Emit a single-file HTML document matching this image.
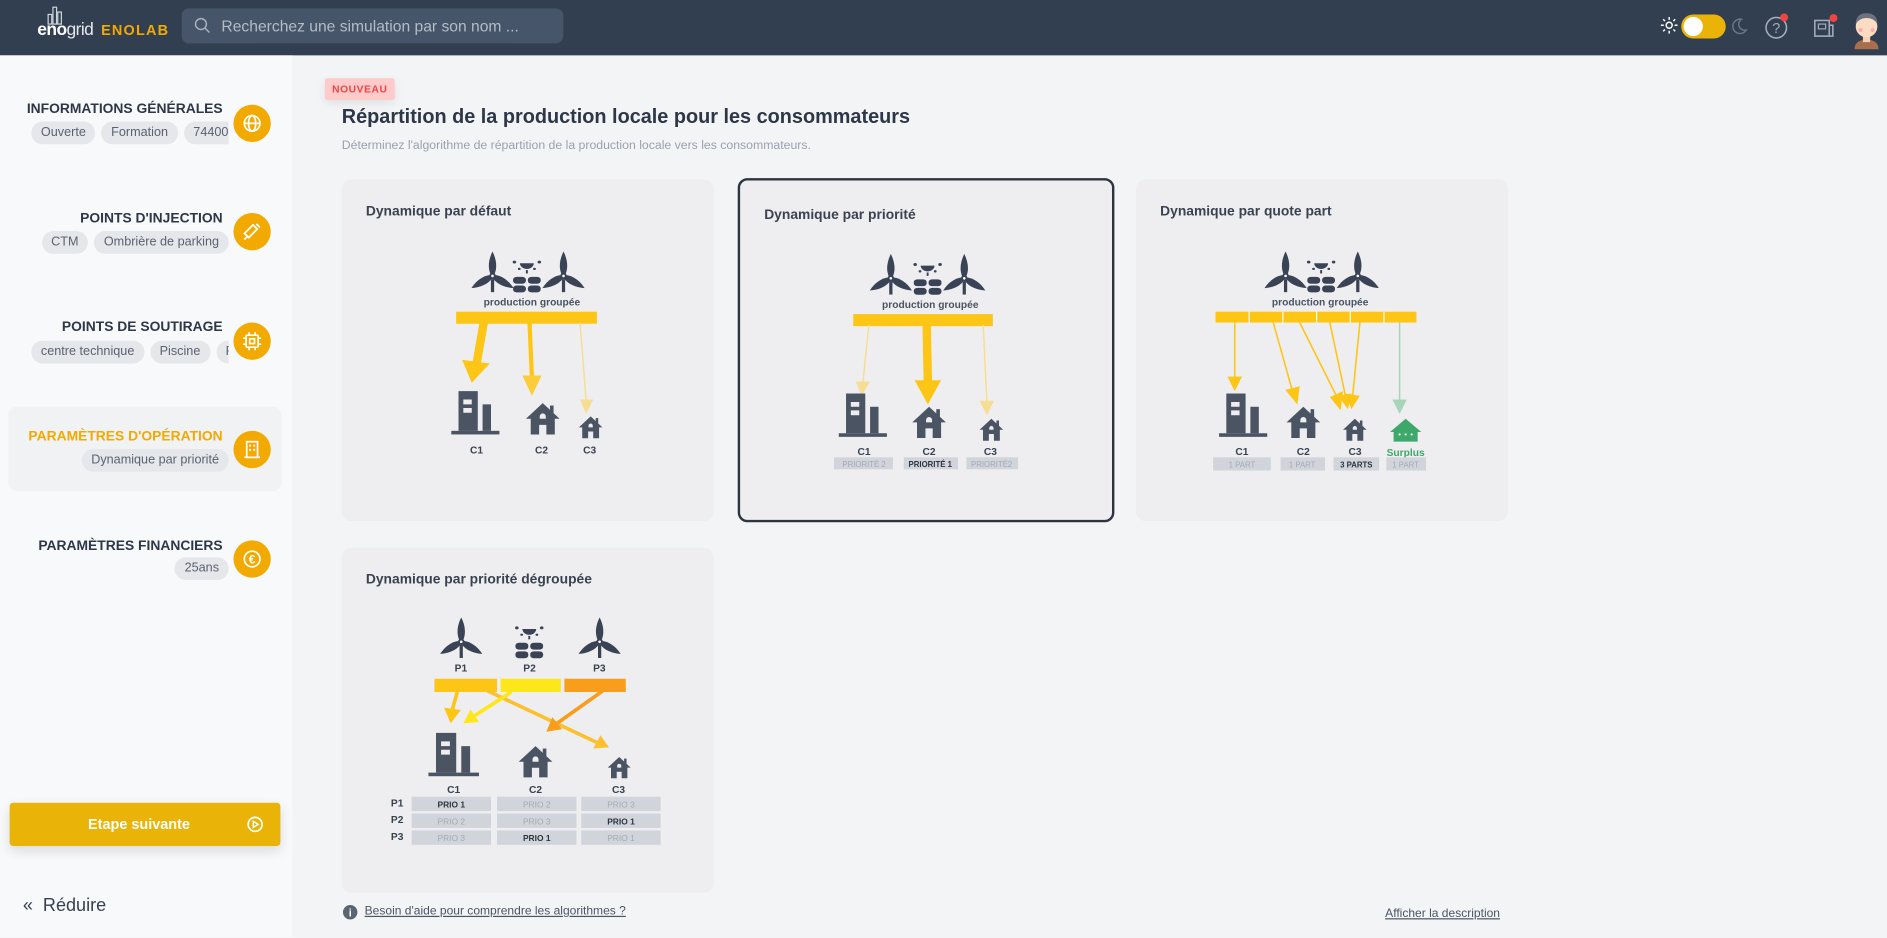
<!DOCTYPE html>
<html><head><meta charset="utf-8">
<style>
html,body{margin:0;padding:0;width:1887px;height:937px;overflow:hidden;background:#f3f4f6;font-family:"Liberation Sans",sans-serif}
#w{position:absolute;left:0;top:0;width:1568px;height:779px;transform:scale(1.20345);transform-origin:0 0;background:#f3f4f6}
.top{position:absolute;left:0;top:0;width:1568px;height:46px;background:#323f51}
.side{position:absolute;left:0;top:46px;width:243px;height:733px;background:#f8f9fb}
.abs{position:absolute}
.st{position:absolute;right:58px;font-size:11.5px;font-weight:bold;color:#2d3748;white-space:nowrap}
.chips{position:absolute;left:25px;width:165px;height:19px;overflow:hidden;display:flex;gap:5px;white-space:nowrap}
.chip{background:#e5e7eb;border-radius:10px;height:19px;line-height:19px;padding:0 8px;font-size:10.5px;color:#5b6270;flex:none}
.ic{position:absolute;left:194px;width:31px;height:31px;border-radius:50%;background:#f2a900}
.card{position:absolute;width:309px;background:#eeeef0;border-radius:8px}
.ct{position:absolute;left:20px;font-size:11.5px;font-weight:bold;color:#3a4250}
</style></head><body><div id="w">
<div class="top">
  <div class="abs" style="left:31px;top:17px;font-size:14.5px;color:#fff;font-weight:bold;letter-spacing:-.5px">eno<span style="font-weight:normal;color:#e5e7eb">grid</span></div>
  <svg class="abs" style="left:36px;top:5px" width="22" height="16"><g fill="none" stroke="#cfd5dd" stroke-width="1"><rect x="8" y="1" width="3" height="14"/><rect x="4" y="7" width="3" height="8"/><rect x="12" y="5" width="3" height="10"/></g></svg>
  <div class="abs" style="left:84px;top:18px;font-size:12px;color:#f2a900;font-weight:bold;letter-spacing:1px">ENOLAB</div>
  <div class="abs" style="left:151px;top:7px;width:317px;height:29px;background:#46556a;border-radius:6px"></div>
  <svg class="abs" style="left:161px;top:14px" width="14" height="14"><circle cx="6" cy="6" r="4.5" fill="none" stroke="#aab3c0" stroke-width="1.2"/><line x1="9.5" y1="9.5" x2="13" y2="13" stroke="#aab3c0" stroke-width="1.2"/></svg>
  <div class="abs" style="left:184px;top:14px;font-size:13px;color:#b4bcc8">Recherchez une simulation par son nom ...</div>
  <svg class="abs" style="left:1380px;top:14px" width="14" height="14"><circle cx="7" cy="7" r="2.5" fill="none" stroke="#fff" stroke-width="1.2"/><g stroke="#fff" stroke-width="1.2"><line x1="7" y1="0" x2="7" y2="2.5"/><line x1="7" y1="11.5" x2="7" y2="14"/><line x1="0" y1="7" x2="2.5" y2="7"/><line x1="11.5" y1="7" x2="14" y2="7"/><line x1="2" y1="2" x2="3.5" y2="3.5"/><line x1="10.5" y1="10.5" x2="12" y2="12"/><line x1="2" y1="12" x2="3.5" y2="10.5"/><line x1="10.5" y1="3.5" x2="12" y2="2"/></g></svg>
  <div class="abs" style="left:1397px;top:12px;width:37px;height:20px;border-radius:10px;background:#eab308"></div>
  <div class="abs" style="left:1399px;top:14px;width:16px;height:16px;border-radius:50%;background:#fff"></div>
  <svg class="abs" style="left:1438px;top:15px" width="14" height="14"><path d="M9 1 A6 6 0 1 0 13 10 A5 5 0 0 1 9 1Z" fill="none" stroke="#6b7789" stroke-width="1.2"/></svg>
  <svg class="abs" style="left:1466px;top:11px" width="22" height="22"><circle cx="10" cy="12" r="8.5" fill="none" stroke="#a3adbb" stroke-width="1.3"/><text x="10" y="16.5" font-size="12" fill="#a3adbb" text-anchor="middle" font-family="Liberation Sans">?</text><circle cx="16.5" cy="3.5" r="3.3" fill="#ef4444"/></svg>
  <svg class="abs" style="left:1506px;top:11px" width="22" height="22"><rect x="2" y="6" width="12" height="13" fill="none" stroke="#a3adbb" stroke-width="1.3"/><rect x="5" y="9" width="6" height="4" fill="none" stroke="#a3adbb"/><path d="M14 10 H17 V19 H14" fill="none" stroke="#a3adbb" stroke-width="1.3"/><circle cx="17.5" cy="4" r="3.3" fill="#ef4444"/></svg>
  <svg class="abs" style="left:1537px;top:5px" width="28" height="36"><path d="M4 36 Q4 28 14 28 Q24 28 24 36Z" fill="#a86f4c"/><rect x="11" y="25" width="6" height="5" fill="#f6d0b0"/><circle cx="14" cy="17" r="9" fill="#fbdcc2"/><path d="M5 15 Q5 6 14 6 Q23 6 23 15 Q20 10 14 10 Q8 10 5 15Z" fill="#6b7280"/><circle cx="9" cy="20" r="1.6" fill="#f9a8b4"/><circle cx="19" cy="20" r="1.6" fill="#f9a8b4"/></svg>
</div>

<div class="side">
  <div class="st" style="top:39px">INFORMATIONS GÉNÉRALES</div>
  <div class="chips" style="top:55px;left:26px;width:164px"><span class="chip">Ouverte</span><span class="chip">Formation</span><span class="chip">74400</span></div>
  <div class="ic" style="top:41px"></div>
  <svg class="abs" style="left:201px;top:48px" width="17" height="17"><g fill="none" stroke="#fff" stroke-width="1.4"><circle cx="8.5" cy="8.5" r="6.5"/><ellipse cx="8.5" cy="8.5" rx="3" ry="6.5"/><line x1="2" y1="8.5" x2="15" y2="8.5"/></g></svg>

  <div class="st" style="top:130px">POINTS D'INJECTION</div>
  <div class="chips" style="top:146px;justify-content:flex-end"><span class="chip">CTM</span><span class="chip">Ombrière de parking</span></div>
  <div class="ic" style="top:131px"></div>
  <svg class="abs" style="left:201px;top:138px" width="17" height="17"><g stroke="#fff" stroke-width="1.5" fill="none"><rect x="5" y="4" width="5" height="10" transform="rotate(45 8.5 8.5)"/><line x1="2" y1="15" x2="5" y2="12"/><line x1="12" y1="2" x2="15" y2="5"/></g></svg>

  <div class="st" style="top:220px">POINTS DE SOUTIRAGE</div>
  <div class="chips" style="top:237px;left:26px;width:164px"><span class="chip">centre technique</span><span class="chip">Piscine</span><span class="chip">F</span></div>
  <div class="ic" style="top:222px"></div>
  <svg class="abs" style="left:201px;top:229px" width="17" height="17"><g fill="none" stroke="#fff" stroke-width="1.4"><rect x="3.5" y="3.5" width="10" height="10" rx="1"/><rect x="6.5" y="6.5" width="4" height="4"/><path d="M6 1V3.5M11 1V3.5M6 13.5V16M11 13.5V16M1 6H3.5M1 11H3.5M13.5 6H16M13.5 11H16"/></g></svg>

  <div class="abs" style="left:7px;top:292px;width:227px;height:70px;background:#f1f2f4;border-radius:7px"></div>
  <div class="st" style="top:311px;color:#f2a900">PARAMÈTRES D'OPÉRATION</div>
  <div class="chips" style="top:327px;justify-content:flex-end"><span class="chip">Dynamique par priorité</span></div>
  <div class="ic" style="top:312px"></div>
  <svg class="abs" style="left:201px;top:319px" width="17" height="17"><g fill="none" stroke="#fff" stroke-width="1.4"><rect x="4" y="2" width="9" height="13"/><line x1="2" y1="15" x2="15" y2="15"/></g><g fill="#fff"><rect x="6" y="4.5" width="1.6" height="1.6"/><rect x="9.4" y="4.5" width="1.6" height="1.6"/><rect x="6" y="8" width="1.6" height="1.6"/><rect x="9.4" y="8" width="1.6" height="1.6"/></g></svg>

  <div class="st" style="top:402px">PARAMÈTRES FINANCIERS</div>
  <div class="chips" style="top:417px;justify-content:flex-end"><span class="chip">25ans</span></div>
  <div class="ic" style="top:403px"></div>
  <svg class="abs" style="left:201px;top:410px" width="17" height="17"><circle cx="8.5" cy="8.5" r="6.5" fill="none" stroke="#fff" stroke-width="1.4"/><text x="8.5" y="12.3" font-size="10" fill="#fff" text-anchor="middle" font-family="Liberation Sans" font-weight="bold">€</text></svg>

  <div class="abs" style="left:8px;top:621px;width:225px;height:36px;background:#eab308;border-radius:3px;box-shadow:0 4px 10px rgba(0,0,0,.12)"></div>
  <div class="abs" style="left:8px;top:632px;width:215px;text-align:center;font-size:12px;font-weight:bold;color:#fff">Etape suivante</div>
  <svg class="abs" style="left:205px;top:632px" width="14" height="14"><circle cx="7" cy="7" r="5.8" fill="none" stroke="#fff" stroke-width="1.4"/><path d="M5.5 4.5 L9.5 7 L5.5 9.5Z" fill="none" stroke="#fff" stroke-width="1.2"/></svg>
  <div class="abs" style="left:19px;top:698px;font-size:15px;color:#374151">«&nbsp; Réduire</div>
</div>

<div class="abs" style="left:270px;top:65px;width:58px;height:18px;background:#fecaca;border-radius:2px;box-shadow:0 3px 8px rgba(0,0,0,.08)"></div>
<div class="abs" style="left:270px;top:69px;width:58px;text-align:center;font-size:8.5px;font-weight:bold;color:#ef4444;letter-spacing:.5px">NOUVEAU</div>
<div class="abs" style="left:284px;top:88px;font-size:16.5px;font-weight:bold;color:#2d3748">Répartition de la production locale pour les consommateurs</div>
<div class="abs" style="left:284px;top:116px;font-size:10.2px;color:#9aa1ad">Déterminez l'algorithme de répartition de la production locale vers les consommateurs.</div>

<div class="card" style="left:284px;top:149px;height:284px"><div class="ct" style="top:21px">Dynamique par défaut</div></div>
<div class="card" style="left:613px;top:148px;height:282px;border:2px solid #2f3540"><div class="ct" style="top:23px">Dynamique par priorité</div></div>
<div class="card" style="left:944px;top:149px;height:284px"><div class="ct" style="top:21px">Dynamique par quote part</div></div>
<div class="card" style="left:284px;top:455px;height:287px"><div class="ct" style="top:21px">Dynamique par priorité dégroupée</div></div>

<svg class="abs" style="left:0;top:0" width="1568" height="779" font-family="Liberation Sans" font-weight="bold">
<defs>
 <g id="tb0" fill="#3a4355">
  <path d="M15 0 C17.5 5 18 10 16.2 14 L13.8 14 C12 10 12.5 5 15 0Z"/>
  <path d="M15 0 C17.5 5 18 10 16.2 14 L13.8 14 C12 10 12.5 5 15 0Z" transform="rotate(120 15 15)"/>
  <path d="M15 0 C17.5 5 18 10 16.2 14 L13.8 14 C12 10 12.5 5 15 0Z" transform="rotate(240 15 15)"/>
  <circle cx="15" cy="15" r="2"/><circle cx="15" cy="15" r=".8" fill="#fff"/>
  <rect x="14" y="17" width="2" height="8"/>
 </g>
 <g id="tb"><use href="#tb0" transform="scale(1.35)"/></g>
 <g id="sl0" fill="#3a4355">
  <path d="M7 6 H17 A5 5 0 0 1 7 6Z"/>
  <circle cx="3" cy="5" r="1.3"/><circle cx="21" cy="5" r="1.3"/><circle cx="6.5" cy="11" r="1"/><circle cx="17.5" cy="11" r="1"/><rect x="11.3" y="12" width="1.4" height="3"/>
  <rect x="2" y="18" width="9.3" height="6" rx="2.5"/><rect x="12.7" y="18" width="9.3" height="6" rx="2.5"/>
  <rect x="2" y="25.5" width="9.3" height="6" rx="2.5"/><rect x="12.7" y="25.5" width="9.3" height="6" rx="2.5"/>
 </g>
 <g id="sl"><use href="#sl0" transform="scale(1.15,.95)"/></g>
 <g id="bd" fill="#4a5463">
  <path d="M6 0 H22 V33 H6Z M10 7 V11 H17 V7Z M10 14 V18 H17 V14Z" fill-rule="evenodd"/>
  <rect x="26" y="11" width="7" height="22"/><rect x="0" y="33" width="40" height="3"/>
 </g>
 <g id="hs" fill="#4a5463">
  <path d="M14 0 L28 13 H24 V26 H17 V18 H11 V26 H4 V13 H0Z M11.5 11 A2.5 2.5 0 0 1 16.5 11 V13 H11.5Z" fill-rule="evenodd"/>
  <rect x="20" y="2" width="3" height="7"/>
 </g>
</defs>

<!-- card1 -->
<use href="#sl" transform="translate(424,213)"/><use href="#tb" transform="translate(389,209)"/><use href="#tb" transform="translate(448,209)"/>
<text x="442" y="254" font-size="8.5" fill="#4a5363" text-anchor="middle">production groupée</text>
<rect x="379" y="259" width="117" height="10" fill="#fdc515"/>
<line x1="402" y1="268" x2="396" y2="302" stroke="#fdc515" stroke-width="7"/><polygon points="384,299 407,302 392,318" fill="#fdc515"/>
<line x1="440" y1="268" x2="442" y2="314" stroke="#fdc515" stroke-width="3.5"/><polygon points="434,312 450,312 442,329" fill="#fbcd3a"/>
<line x1="482" y1="268" x2="487" y2="333" stroke="#f7dc93" stroke-width="1.2"/><polygon points="482,332 493,332 487,344" fill="#f7dc93"/>
<use href="#bd" transform="translate(375,325)"/><use href="#hs" transform="translate(437,335)"/><use href="#hs" transform="translate(481,346) scale(.7)"/>
<g font-size="8.5" fill="#3a4250" text-anchor="middle"><text x="396" y="377">C1</text><text x="450" y="377">C2</text><text x="490" y="377">C3</text></g>

<!-- card2 -->
<use href="#sl" transform="translate(757,215)"/><use href="#tb" transform="translate(720,211)"/><use href="#tb" transform="translate(781,211)"/>
<text x="773" y="256" font-size="8.5" fill="#4a5363" text-anchor="middle">production groupée</text>
<rect x="709" y="261" width="116" height="10" fill="#fdc515"/>
<line x1="722" y1="270" x2="717" y2="318" stroke="#f7dc93" stroke-width="1.2"/><polygon points="711,317 723,317 716,329" fill="#f7dc93"/>
<line x1="770" y1="270" x2="771" y2="318" stroke="#fdc515" stroke-width="7"/><polygon points="760,316 782,316 771,336" fill="#fdc515"/>
<line x1="817" y1="270" x2="820" y2="334" stroke="#f7dc93" stroke-width="1.2"/><polygon points="814,333 826,333 820,345" fill="#f7dc93"/>
<use href="#bd" transform="translate(697,327)"/><use href="#hs" transform="translate(758,338)"/><use href="#hs" transform="translate(814,348) scale(.7)"/>
<g font-size="8.5" fill="#3a4250" text-anchor="middle"><text x="718" y="378">C1</text><text x="772" y="378">C2</text><text x="823" y="378">C3</text></g>
<rect x="693" y="380" width="49" height="10" fill="#d1d5db"/><rect x="751" y="380" width="45" height="10" fill="#d1d5db"/><rect x="803" y="380" width="43" height="10" fill="#d1d5db"/>
<g font-size="6.5" font-weight="normal" text-anchor="middle"><text x="718" y="388" fill="#a3a9b3">PRIORITÉ 2</text><text x="773" y="388" fill="#2d3440" font-weight="bold">PRIORITÉ 1</text><text x="824" y="388" fill="#a3a9b3">PRIORITÉ2</text></g>

<!-- card3 -->
<use href="#sl" transform="translate(1084,213)"/><use href="#tb" transform="translate(1048,209)"/><use href="#tb" transform="translate(1108,209)"/>
<text x="1097" y="254" font-size="8.5" fill="#4a5363" text-anchor="middle">production groupée</text>
<rect x="1010" y="259" width="167" height="9" fill="#fdc515"/>
<g stroke="#fff" stroke-width="1"><line x1="1038" y1="259" x2="1038" y2="268"/><line x1="1066" y1="259" x2="1066" y2="268"/><line x1="1094" y1="259" x2="1094" y2="268"/><line x1="1122" y1="259" x2="1122" y2="268"/><line x1="1150" y1="259" x2="1150" y2="268"/></g>
<g stroke="#fdc515" stroke-width="1.3"><line x1="1026" y1="268" x2="1026" y2="314"/><line x1="1058" y1="268" x2="1074" y2="325"/><line x1="1080" y1="268" x2="1111" y2="330"/><line x1="1105" y1="268" x2="1118" y2="329"/><line x1="1130" y1="268" x2="1124" y2="329"/></g>
<g fill="#fdc515"><polygon points="1020,313 1032,313 1026,325"/><polygon points="1068,324 1080,321 1078,336"/><polygon points="1105,330 1116,325 1114,341"/><polygon points="1112,329 1123,327 1120,340"/><polygon points="1118,327 1130,329 1123,340"/></g>
<line x1="1163" y1="268" x2="1163" y2="333" stroke="#a8d5b8" stroke-width="1.2"/><polygon points="1157,332 1169,332 1163,344" fill="#a8d5b8"/>
<use href="#bd" transform="translate(1013,327)"/><use href="#hs" transform="translate(1069,338)"/><use href="#hs" transform="translate(1116,348) scale(.7)"/>
<path d="M1168 348 L1181 359 H1178 V367 H1158 V359 H1155Z" fill="#3ea86b"/><g fill="#fff"><circle cx="1163" cy="361" r=".9"/><circle cx="1168" cy="361" r=".9"/><circle cx="1173" cy="361" r=".9"/></g>
<g font-size="8.5" fill="#3a4250" text-anchor="middle"><text x="1032" y="378">C1</text><text x="1083" y="378">C2</text><text x="1126" y="378">C3</text><text x="1168" y="379" fill="#3ea86b">Surplus</text></g>
<rect x="1008" y="380" width="48" height="11" fill="#d1d5db"/><rect x="1064" y="380" width="37" height="11" fill="#d1d5db"/><rect x="1108" y="380" width="38" height="11" fill="#d1d5db"/><rect x="1152" y="380" width="33" height="11" fill="#d1d5db"/>
<g font-size="6.5" font-weight="normal" text-anchor="middle" fill="#a3a9b3"><text x="1032" y="388.5">1 PART</text><text x="1082" y="388.5">1 PART</text><text x="1127" y="388.5" fill="#2d3440" font-weight="bold">3 PARTS</text><text x="1168" y="388.5">1 PART</text></g>

<!-- card4 -->
<use href="#tb" transform="translate(363,513)"/><use href="#sl" transform="translate(426,517)"/><use href="#tb" transform="translate(478,513)"/>
<g font-size="8.5" fill="#3a4250" text-anchor="middle"><text x="383" y="558">P1</text><text x="440" y="558">P2</text><text x="498" y="558">P3</text></g>
<rect x="361" y="564" width="52" height="11" fill="#fdc515"/><rect x="416" y="564" width="50" height="11" fill="#fde61a"/><rect x="469" y="564" width="51" height="11" fill="#f89d1c"/>
<line x1="380" y1="575" x2="376" y2="589" stroke="#fdc515" stroke-width="3"/><polygon points="369,588 383,590 374.5,601" fill="#fdc515"/>
<line x1="405" y1="574" x2="496" y2="617" stroke="#fbc02d" stroke-width="3"/><polygon points="493,622 499,611 506,621" fill="#fbc02d"/>
<line x1="425" y1="575" x2="394.5" y2="594.6" stroke="#fde61a" stroke-width="3"/><polygon points="391,589.5 398,600 385,601" fill="#fde61a"/>
<line x1="501" y1="574" x2="463" y2="601" stroke="#f89d1c" stroke-width="3"/><polygon points="459,596 467,606 454,608" fill="#f89d1c"/>
<use href="#bd" transform="translate(356,609) scale(1.05,1)"/><use href="#hs" transform="translate(431,620)"/><use href="#hs" transform="translate(505,629) scale(.68)"/>
<g font-size="8.5" fill="#3a4250" text-anchor="middle"><text x="377" y="659">C1</text><text x="445" y="659">C2</text><text x="514" y="659">C3</text>
<text x="330" y="670">P1</text><text x="330" y="684">P2</text><text x="330" y="698">P3</text></g>
<g fill="#d1d5db"><rect x="342" y="662" width="66" height="12"/><rect x="413" y="662" width="66" height="12"/><rect x="483" y="662" width="66" height="12"/>
<rect x="342" y="676" width="66" height="12"/><rect x="413" y="676" width="66" height="12"/><rect x="483" y="676" width="66" height="12"/>
<rect x="342" y="690" width="66" height="12"/><rect x="413" y="690" width="66" height="12"/><rect x="483" y="690" width="66" height="12"/></g>
<g font-size="7" font-weight="normal" text-anchor="middle" fill="#a3a9b3">
<text x="375" y="671" fill="#2d3440" font-weight="bold">PRIO 1</text><text x="446" y="671">PRIO 2</text><text x="516" y="671">PRIO 3</text>
<text x="375" y="685">PRIO 2</text><text x="446" y="685">PRIO 3</text><text x="516" y="685" fill="#2d3440" font-weight="bold">PRIO 1</text>
<text x="375" y="699">PRIO 3</text><text x="446" y="699" fill="#2d3440" font-weight="bold">PRIO 1</text><text x="516" y="699">PRIO 1</text></g>

<circle cx="291" cy="758" r="6" fill="#5b6472"/><text x="291" y="761.5" font-size="9" fill="#fff" text-anchor="middle">i</text>
</svg>
<div class="abs" style="left:303px;top:752px;font-size:10px;color:#4b5563;text-decoration:underline">Besoin d'aide pour comprendre les algorithmes ?</div>
<div class="abs" style="left:1151px;top:754px;font-size:10px;color:#4b5563;text-decoration:underline">Afficher la description</div>
</div></body></html>
